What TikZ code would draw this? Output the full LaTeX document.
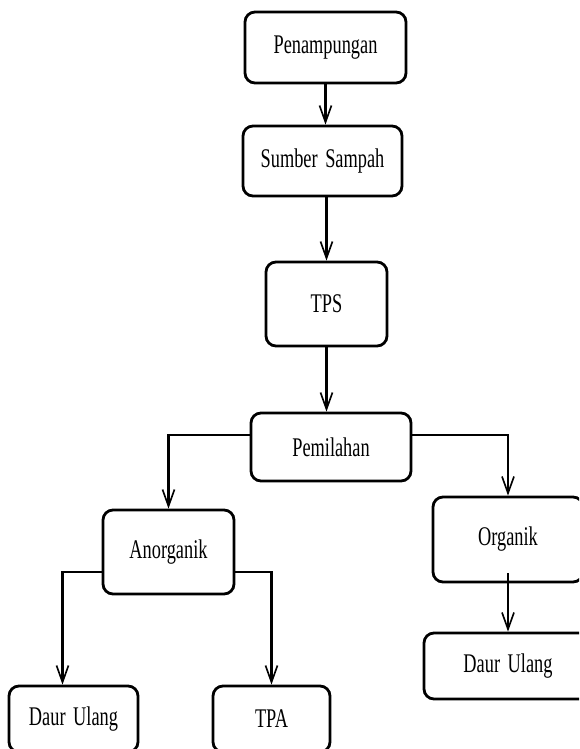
\documentclass[tikz,border=0pt]{standalone}
\usepackage{fontspec}
\usepackage{graphicx}
\setmainfont{Liberation Serif}
\usetikzlibrary{arrows.meta}

\newcommand{\teks}[1]{\scalebox{0.68}[1]{#1}}

\tikzset{
	kotak/.style={draw, rounded corners=0.3cm, line width=2.4pt, inner sep=0pt,
		align=center, font=\fontsize{23}{27}\selectfont},
	panah/.style={line width=2pt, -{Straight Barb[length=0.5cm,width=0.36cm,line width=1.4pt]}},
}

\begin{document}
\begin{tikzpicture}[x=0.03cm, y=-0.03cm]

		%Rahmen
		\useasboundingbox (0,0) rectangle (579,749);
		\clip (0,0) rectangle (579,749);

		%Kotak atas
		\node [kotak, minimum width=4.83cm, minimum height=2.13cm] (pen) at (325.5,47.5) {\teks{Penampungan}};
		\node [kotak, minimum width=4.77cm, minimum height=2.10cm] (sum) at (322.5,161) {\teks{Sumber\ \,Sampah}};
		\node [kotak, minimum width=3.63cm, minimum height=2.52cm] (tps) at (326.5,304) {\teks{TPS}};
		\node [kotak, minimum width=4.80cm, minimum height=2.04cm] (pem) at (331,447) {\teks{Pemilahan}};

		%Cabang
		\node [kotak, minimum width=3.93cm, minimum height=2.52cm] (ano) at (168.5,552) {\teks{Anorganik}};
		\node [kotak, minimum width=4.50cm, minimum height=2.55cm] (org) at (508,539.5) {\teks{Organik}};

		%Kotak bawah
		\node [kotak, minimum width=3.87cm, minimum height=1.98cm] (dl1) at (73.5,719) {\teks{Daur\ \,Ulang}};
		\node [kotak, minimum width=3.51cm, minimum height=1.98cm] (tpa) at (271.5,719) {\teks{TPA}};
		\node [kotak, minimum width=5.04cm, minimum height=1.98cm] (dl2) at (508,666) {\teks{Daur\ \,Ulang}};

		%Panah
		\draw [panah] (pen.south) -- (pen.south |- sum.north);
		\draw [panah] (tps.north |- sum.south) -- (tps.north);
		\draw [panah] (tps.south) -- (tps.south |- pem.north);
		\draw [panah] ([yshift=0.36cm]pem.west) -| (ano.north);
		\draw [panah] ([yshift=0.36cm]pem.east) -| (org.north);
		\draw [panah] ([yshift=-0.6cm]ano.west) -| ([xshift=-0.33cm]dl1.north);
		\draw [panah] ([yshift=-0.6cm]ano.east) -| (tpa.north);
		\draw [panah, line width=1.3pt] ([yshift=0.3cm]org.south) -- (dl2.north);

\end{tikzpicture}
\end{document}
